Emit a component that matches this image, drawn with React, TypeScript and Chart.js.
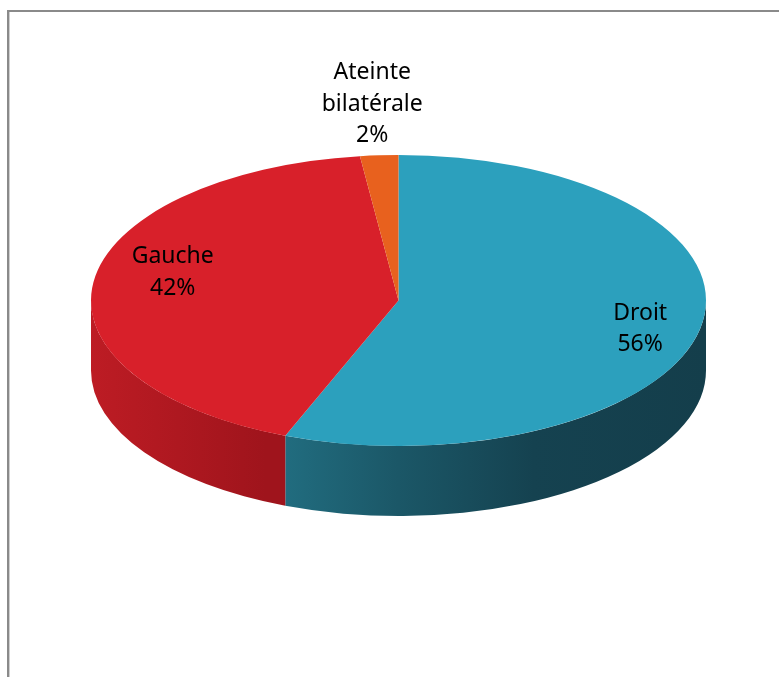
import React, { useEffect, useRef } from 'react';
import { Chart, registerables } from 'chart.js';

Chart.register(...registerables);

// ---- data ----
const CATEGORIES = ['Droit', 'Gauche', 'Ateinte bilatérale'];
const VALUES = [56, 42, 2];

// ---- styles ----
const TOP_COLORS = ['#2ca0bd', '#d8202a', '#e8611e'];
const SIDE_GRADIENTS: [number, string][][] = [
  [[0, '#26788b'], [0.283, '#227083'], [0.5, '#1b5767'], [0.72, '#154250'], [1, '#143e4b']],
  [[0, '#bd1c24'], [0.283, '#9f141c'], [1, '#9f141c']],
  [[0, '#b44812'], [1, '#b44812']],
];
const LABEL_RADIUS = [0.8, 0.74, 1.36];
const LABEL_DY = [5, -16, 0];

const W = 779;
const H = 677;
const TOP_CY = 300.5;
const TILT = 0.4732;
const DEPTH = 70;
const FONT = '23px "Noto Sans"';
const LINE_H = 31.5;
const CAP_HALF = 8;

const pie3d = {
  id: 'pie3d',
  beforeDraw(chart: any) {
    const ctx = chart.ctx;
    ctx.save();
    ctx.fillStyle = '#8a8a8a';
    ctx.fillRect(7, 10, 2, H - 10);
    ctx.fillRect(7, 10, W - 7, 2);
    ctx.fillStyle = '#cfcfcf';
    ctx.fillRect(9, 12, 1, H - 12);
    ctx.restore();
  },
  beforeDatasetsDraw(chart: any) {
    const ctx = chart.ctx;
    const arcs = chart.getDatasetMeta(0).data as any[];
    ctx.save();
    if (!arcs.length) return;
    const { x: cx, y: cy, outerRadius: R } = arcs[0].getProps(['x', 'y', 'outerRadius'], true);
    ctx.translate(0, TOP_CY);
    ctx.scale(1, TILT);
    ctx.translate(0, -cy);
    const dt = DEPTH / TILT;
    arcs.forEach((arc: any, i: number) => {
      const { startAngle, endAngle } = arc.getProps(['startAngle', 'endAngle'], true);
      for (const shift of [-2 * Math.PI, 0, 2 * Math.PI]) {
        const s = Math.max(startAngle + shift, 0);
        const e = Math.min(endAngle + shift, Math.PI);
        if (e - s <= 1e-6) continue;
        const g = ctx.createLinearGradient(cx - R, 0, cx + R, 0);
        SIDE_GRADIENTS[i].forEach(([o, c]) => g.addColorStop(o, c));
        ctx.fillStyle = g;
        ctx.beginPath();
        ctx.arc(cx, cy, R, s, e);
        ctx.lineTo(cx + R * Math.cos(e), cy + dt + R * Math.sin(e));
        ctx.arc(cx, cy + dt, R, e, s, true);
        ctx.closePath();
        ctx.fill();
      }
    });
  },
  afterDatasetsDraw(chart: any) {
    const ctx = chart.ctx;
    ctx.restore();
    const arcs = chart.getDatasetMeta(0).data as any[];
    const total = VALUES.reduce((a, b) => a + b, 0);
    ctx.save();
    ctx.font = FONT;
    ctx.fillStyle = '#000';
    ctx.textAlign = 'center';
    ctx.textBaseline = 'alphabetic';
    arcs.forEach((arc: any, i: number) => {
      const { x: cx, outerRadius: R, startAngle, endAngle } = arc.getProps(
        ['x', 'y', 'outerRadius', 'startAngle', 'endAngle'],
        true
      );
      const mid = (startAngle + endAngle) / 2;
      const f = LABEL_RADIUS[i];
      const x = cx + f * R * Math.cos(mid);
      const y = TOP_CY + f * R * Math.sin(mid) * TILT + LABEL_DY[i];
      const lines = [...CATEGORIES[i].split(' '), Math.round((VALUES[i] / total) * 100) + '%'];
      const n = lines.length;
      lines.forEach((t, k) => {
        ctx.fillText(t, x, y - ((n - 1) * LINE_H) / 2 + k * LINE_H + CAP_HALF);
      });
    });
    ctx.restore();
  },
};

export default function App() {
  const ref = useRef<HTMLCanvasElement | null>(null);
  useEffect(() => {
    if (!ref.current) return;
    const chart = new Chart(ref.current, {
      type: 'pie',
      data: {
        labels: CATEGORIES,
        datasets: [
          {
            data: VALUES,
            backgroundColor: TOP_COLORS,
            borderWidth: 0,
            hoverOffset: 0,
            offset: 0,
          } as any,
        ],
      },
      options: {
        responsive: false,
        maintainAspectRatio: false,
        devicePixelRatio: 1,
        animation: false,
        events: [],
        layout: { padding: { left: 91, right: 73, top: 31, bottom: 31 } },
        plugins: {
          legend: { display: false },
          tooltip: { enabled: false },
        },
      } as any,
      plugins: [pie3d],
    });
    return () => chart.destroy();
  }, []);
  return (
    <div style={{ position: 'fixed', left: 0, top: 0, width: W, height: H, background: '#fff' }}>
      <canvas ref={ref} width={W} height={H} style={{ width: W, height: H, display: 'block' }} />
    </div>
  );
}
